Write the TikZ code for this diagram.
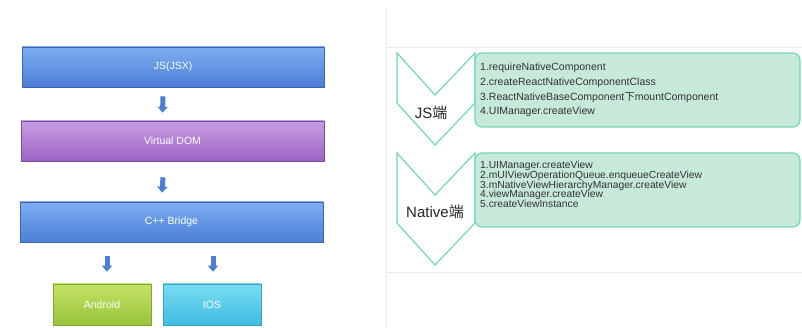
\documentclass[tikz,border=0pt]{standalone}
\usepackage{fontspec}
\setmainfont{Liberation Sans}
\newfontfamily\cjk{Noto Sans CJK SC}
\usetikzlibrary{arrows.meta,calc}
\definecolor{arrowblue}{HTML}{4A80D4}
\definecolor{jstop}{HTML}{7DAEF2}
\definecolor{jsbot}{HTML}{4B7ED6}
\definecolor{vdtop}{HTML}{C89DE2}
\definecolor{vdbot}{HTML}{9B63C6}
\definecolor{antop}{HTML}{C4E266}
\definecolor{anbot}{HTML}{98C43C}
\definecolor{iostop}{HTML}{78DDF2}
\definecolor{iosbot}{HTML}{40BCE2}
\definecolor{gfill}{HTML}{C6E9DA}
\definecolor{gline}{HTML}{72D8B2}
\definecolor{txt}{HTML}{333333}
\tikzset{
  lbox/.style={draw=#1, line width=0.6pt, text=white, font=\fontsize{10.5}{12}\selectfont, inner sep=0pt},
  darrow/.style={draw=arrowblue, line width=5pt, -{Triangle[width=10pt,length=6pt]}},
  gbox/.style={draw=gline, fill=gfill, line width=1.2pt, rounded corners=7pt},
  chev/.style={draw=gline, fill=white, line width=1.2pt, line join=miter},
  btext/.style={anchor=west, align=left, text=txt, inner sep=0pt},
  faint/.style={draw=black!8, line width=0.8pt}
}
\begin{document}
\begin{tikzpicture}[x=1pt,y=-1pt]
\useasboundingbox[fill=white] (0,0) rectangle (802,328);
% faint frame lines
\draw[faint] (386,8) -- (386,328);
\draw[faint] (387,47) -- (802,47);
\draw[faint] (387,272) -- (802,272);
% left stack
\node[lbox=jsbot!80!black, top color=jstop, bottom color=jsbot, minimum width=302pt, minimum height=40pt] (js) at (173,67) {JS(JSX)};
\node[lbox=vdbot!80!black, top color=vdtop, bottom color=vdbot, minimum width=303pt, minimum height=40pt] (vdom) at (172.5,141) {Virtual DOM};
\node[lbox=jsbot!80!black, top color=jstop, bottom color=jsbot, minimum width=303pt, minimum height=40pt] (cpp) at (171.5,222) {C++ Bridge};
\node[lbox=anbot!85!black, top color=antop, bottom color=anbot, minimum width=98pt, minimum height=41pt] (android) at (102,304.5) {Android};
\node[lbox=iosbot!85!black, top color=iostop, bottom color=iosbot, minimum width=98pt, minimum height=41pt] (ios) at (212,304.5) {IOS};
\draw[darrow] ($(js.south)+(-10,9)$) -- ($(vdom.north)+(-10,-8)$);
\draw[darrow] ($(vdom.south)+(-9.5,16)$) -- ($(cpp.north)+(-9.5,-9)$);
\draw[darrow] ($(android.north |- cpp.south)+(5,14)$) -- ($(android.north)+(5,-12)$);
\draw[darrow] ($(ios.north |- cpp.south)+(1,14)$) -- ($(ios.north)+(1,-12)$);
% chevrons
\draw[chev] (397,153) -- (435,195) -- (475,153) -- (475,223) -- (435,265) -- (397,223) -- cycle;
\draw[chev] (397,53) -- (435,95) -- (475,53) -- (475,103) -- (435,145) -- (397,103) -- cycle;
% green boxes
\draw[gbox] (475,53) rectangle (800,127);
\draw[gbox] (475,153) rectangle (800,227);
\node[text=black!85, font=\fontsize{15}{17}\selectfont] (jslabel) at (431,113) {JS{\cjk 端}};
\node[text=black!85, font=\fontsize{15}{17}\selectfont] (nativelabel) at (435,212) {Native{\cjk 端}};
\node[btext, font=\fontsize{10.5}{14.7}\selectfont] (t1) at (480,90) {1.requireNativeComponent\\2.createReactNativeComponentClass\\3.ReactNativeBaseComponent{\cjk 下}mountComponent\\4.UIManager.createView};
\node[btext, font=\fontsize{10.3}{9.7}\selectfont] (t2) at (480,184.5) {1.UIManager.createView\\2.mUIViewOperationQueue.enqueueCreateView\\3.mNativeViewHierarchyManager.createView\\4.viewManager.createView\\5.createViewInstance};
\end{tikzpicture}
\end{document}
